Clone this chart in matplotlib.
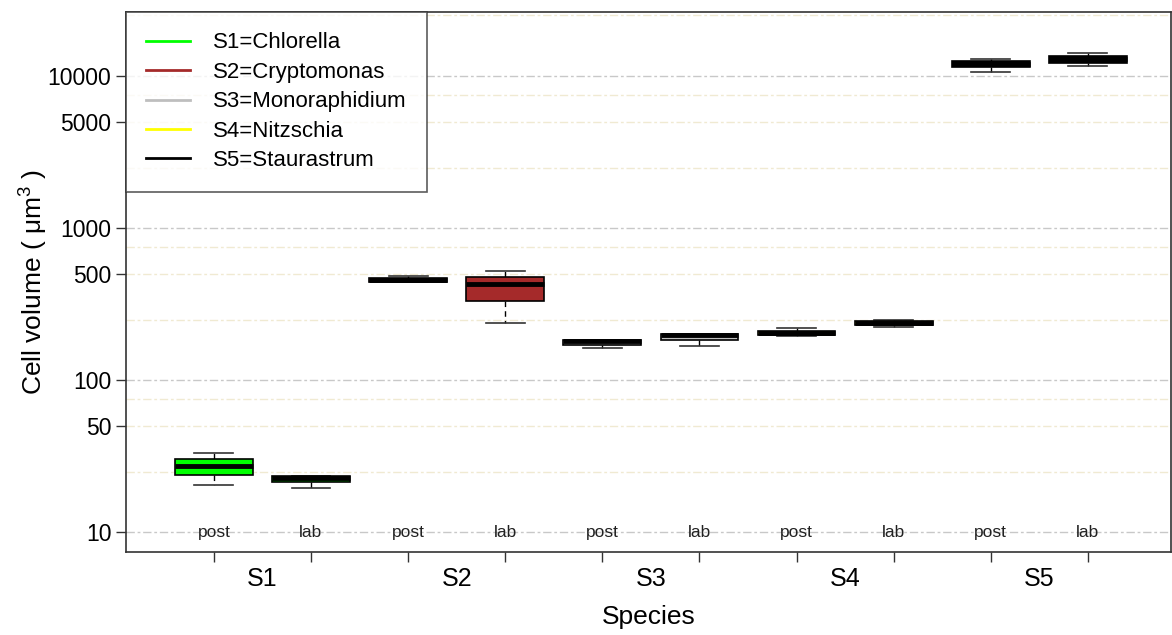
import matplotlib
matplotlib.use('Agg')
import matplotlib.pyplot as plt

plt.rcParams['font.family'] = ['Liberation Sans', 'DejaVu Sans']
plt.rcParams['mathtext.fontset'] = 'custom'
plt.rcParams['mathtext.rm'] = 'Liberation Sans'
plt.rcParams['mathtext.it'] = 'Liberation Sans'

# Donnees (une boite par espece x traitement)
species    = ['S1', 'S2', 'S3', 'S4', 'S5']
names      = ['Chlorella', 'Cryptomonas', 'Monoraphidium', 'Nitzschia', 'Staurastrum']
treatments = ['post', 'lab']
colors     = ['#00FF00', '#A52A2A', '#BEBEBE', '#FFFF00', '#000000']

whislo = [20.4, 19.5,  440, 236,  163, 168,  195, 222,  10670, 11700]
q1     = [23.7, 21.3,  443, 330,  170, 182,  198, 229,  11400, 12240]
med    = [27.2, 22.5,  455, 426,  181, 198,  204, 237,  12000, 12940]
q3     = [30.2, 23.4,  467, 474,  183, 201,  211, 246,  12610, 13630]
whishi = [33.1, 23.4,  483, 519,  183, 201,  219, 248,  12880, 14260]

yticks       = [10, 50, 100, 500, 1000, 5000, 10000]
grid_major   = [10, 100, 1000, 10000]
grid_minor   = [25, 50, 75, 250, 500, 750, 2500, 5000, 7500, 25000]

fig = plt.figure(figsize=(11.72, 6.35), dpi=100)
ax = fig.add_axes([126/1172, 1 - 552/635, 1 - 126/1172 - 0.001, (552 - 12)/635])

# Grille
for g in grid_minor:
    ax.axhline(g, color='#F0EAD2', lw=1, ls=(0, (6, 2, 2, 2)), zorder=0)
for g in grid_major:
    ax.axhline(g, color='#C8C8C8', lw=1, ls=(0, (6, 2, 2, 2)), zorder=0)

# Boites
stats = []
for i in range(len(med)):
    stats.append({'med': med[i], 'q1': q1[i], 'q3': q3[i],
                  'whislo': whislo[i], 'whishi': whishi[i], 'fliers': []})
pos = list(range(1, len(med) + 1))
bp = ax.bxp(stats, positions=pos, widths=0.8, patch_artist=True,
            showfliers=False, manage_ticks=False,
            boxprops=dict(edgecolor='black', linewidth=1.2),
            medianprops=dict(color='black', linewidth=3.5),
            whiskerprops=dict(color='black', linewidth=1, linestyle=(0, (4, 3))),
            capprops=dict(color='#333333', linewidth=1.2), capwidths=0.4)
for i, box in enumerate(bp['boxes']):
    box.set_facecolor(colors[i // 2])
    box.set_zorder(3)
for m in bp['medians']:
    m.set_zorder(4)
    m.set_solid_capstyle('butt')

# Etiquettes post / lab
for i, p in enumerate(pos):
    ax.text(p, 9.85, treatments[i % 2], ha='center', va='center',
            fontsize=12.5, color='#222222', zorder=4)

ax.set_yscale('log')
ax.set_ylim(7.386, 26360)
ax.set_xlim(0.095, 10.854)
ax.set_yticks(yticks)
ax.set_yticklabels([str(t) for t in yticks], fontsize=16.5)
ax.yaxis.set_minor_locator(matplotlib.ticker.NullLocator())
ax.set_xticks(pos)
ax.set_xticklabels([''] * len(pos))
ax.tick_params(axis='both', length=7, width=1, color='#333333')
for k, s in enumerate(species):
    ax.text(2 * k + 1.5, -0.028, s, transform=ax.get_xaxis_transform(),
            ha='center', va='top', fontsize=18)

ax.set_xlabel('Species', fontsize=19)
ax.set_ylabel(r'Cell volume ( $\mathrm{\mu m}^3$ )', fontsize=19)
ax.yaxis.set_label_coords(-76/1046, 0.5)
ax.xaxis.set_label_coords(0.5, -(605 - 552)/540)
for sp in ax.spines.values():
    sp.set_color('#333333')
    sp.set_linewidth(1.2)

# Legende
handles = [plt.Line2D([], [], color=c, lw=2) for c in colors]
labels = [f'{s}={n}' for s, n in zip(species, names)]
leg = ax.legend(handles, labels, loc='upper left', bbox_to_anchor=(0, 1),
                fontsize=16, frameon=True, fancybox=False, edgecolor='#333333',
                borderaxespad=0, handlelength=1.95, handletextpad=1.05,
                labelspacing=0.38, borderpad=0.92)
leg.get_frame().set_linewidth(1.2)

fig.savefig('out.png', dpi=100)
